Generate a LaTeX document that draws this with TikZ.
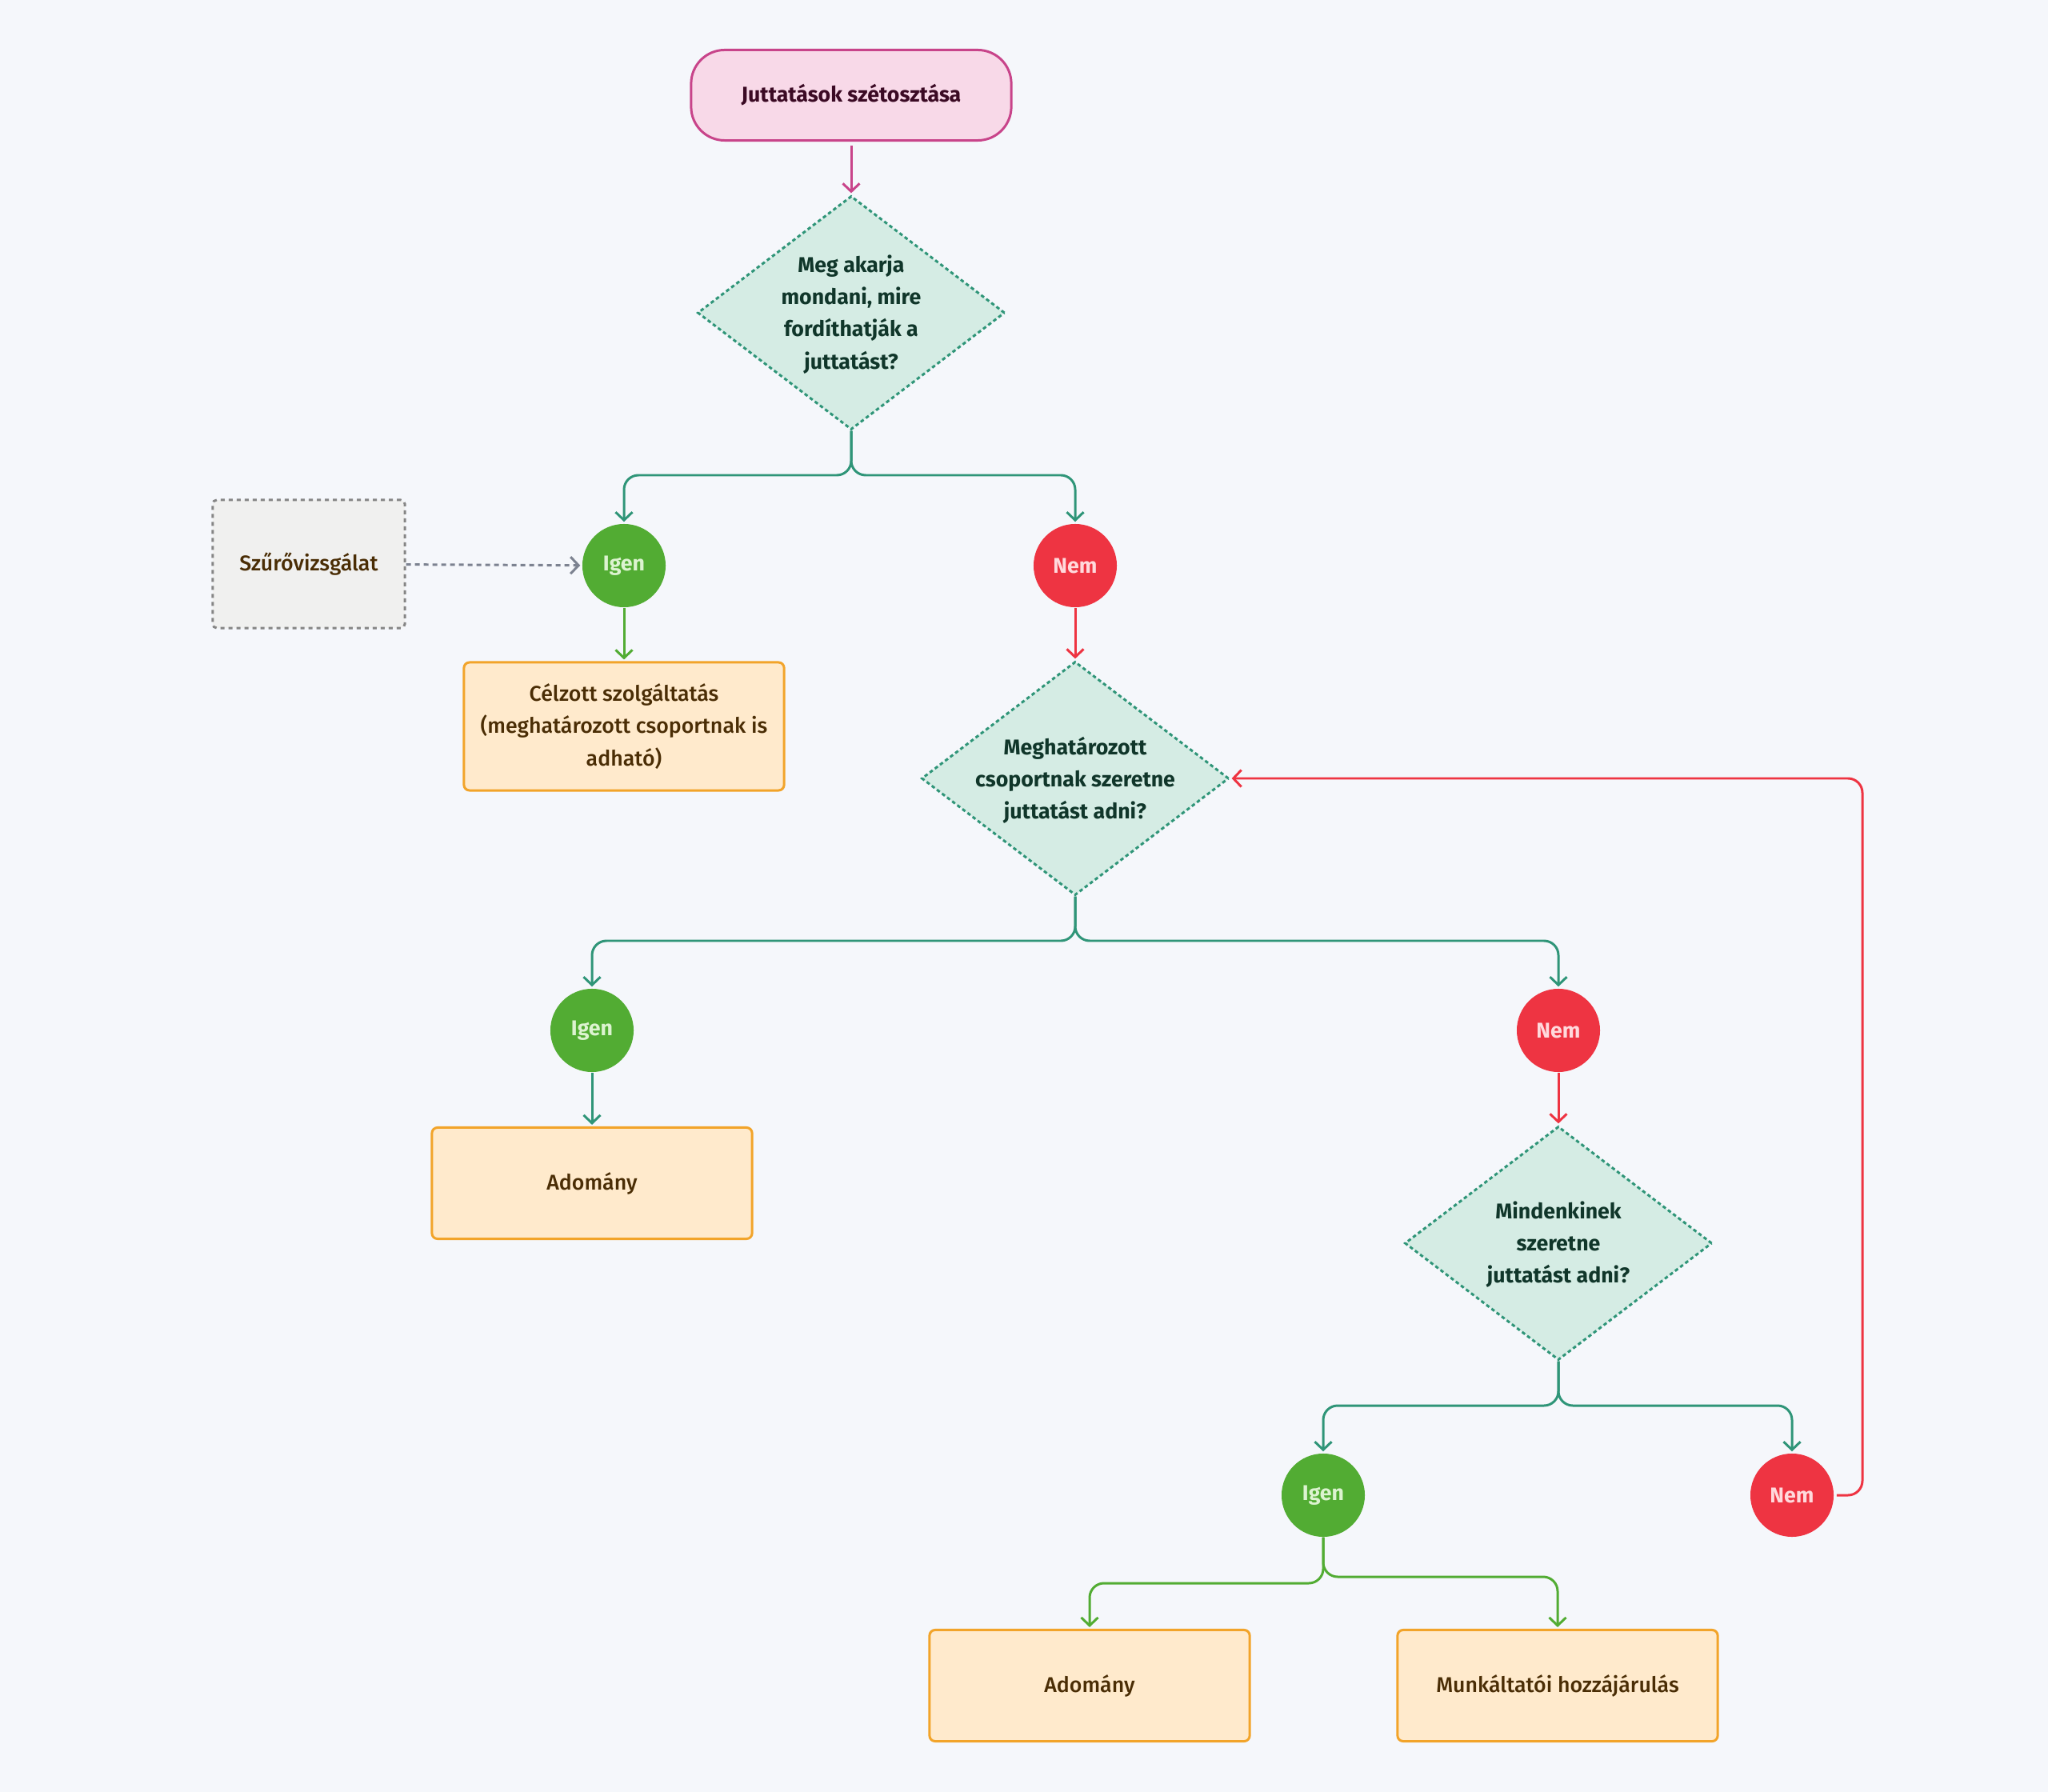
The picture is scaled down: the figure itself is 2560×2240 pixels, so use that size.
\documentclass[tikz,border=0pt]{standalone}
\usepackage{fontspec}
\setmainfont{Fira Sans}
\newfontfamily\medfont{Fira Sans}[UprightFont={* Medium}]
\usetikzlibrary{shapes.geometric,arrows.meta}
\definecolor{bg}{HTML}{F5F7FB}
\definecolor{startfill}{HTML}{F8D9E8}
\definecolor{startline}{HTML}{C8448A}
\definecolor{starttext}{HTML}{3B0A24}
\definecolor{qfill}{HTML}{D5ECE4}
\definecolor{qline}{HTML}{2F9578}
\definecolor{qtext}{HTML}{10362A}
\definecolor{yes}{HTML}{52AC33}
\definecolor{yestext}{HTML}{DCF3D0}
\definecolor{no}{HTML}{EE3442}
\definecolor{notext}{HTML}{FFD9DC}
\definecolor{resfill}{HTML}{FFEACC}
\definecolor{resline}{HTML}{F2A42A}
\definecolor{restext}{HTML}{4A2D05}
\definecolor{asidefill}{HTML}{F0F0EF}
\definecolor{asideline}{HTML}{858585}
\definecolor{asidearrow}{HTML}{7C8290}
\begin{document}
\begin{tikzpicture}[x=0.01cm,y=-0.01cm]
\tikzstyle{every node}+=[inner sep=0pt, font=\fontsize{7.6}{11.4}\selectfont\medfont]
\tikzstyle{startbox}=[draw=startline, fill=startfill, line width=0.85pt, rounded corners=0.42cm, minimum width=4cm, minimum height=1.13cm, text=starttext, font=\fontsize{7.6}{11.4}\selectfont\bfseries]
\tikzstyle{question}=[diamond, draw=qline, fill=qfill, line width=0.85pt, dash pattern=on 0.045cm off 0.035cm, minimum width=3.84cm, minimum height=2.92cm]
\tikzstyle{qlabel}=[text=qtext, align=center, font=\fontsize{7.6}{11.4}\selectfont\bfseries]
\tikzstyle{yesdot}=[circle, fill=yes, minimum size=1.04cm, text=yestext, font=\fontsize{7.6}{11.4}\selectfont\bfseries]
\tikzstyle{nodot}=[circle, fill=no, minimum size=1.04cm, text=notext, font=\fontsize{7.6}{11.4}\selectfont\bfseries]
\tikzstyle{result}=[draw=resline, fill=resfill, line width=0.85pt, rounded corners=0.07cm, minimum width=4cm, text=restext, align=center]
\tikzstyle{aside}=[draw=asideline, fill=asidefill, line width=0.85pt, dash pattern=on 0.05cm off 0.05cm, rounded corners=0.05cm, minimum width=2.4cm, minimum height=1.6cm, text=restext]
\tikzstyle{link}=[line width=0.85pt, rounded corners=0.18cm, shorten >=0.02cm, -{Straight Barb[length=0.1cm,width=0.21cm]}]
\fill[bg] (0,0) rectangle (2560,2240);
\useasboundingbox (0,0) rectangle (2560,2240);
\node[startbox] (start) at (1064,119) {Juttatások szétosztása};
\node[question] (q1) at (1064,391) {};
\node[qlabel] (q1text) at (1064,393) {Meg akarja\\mondani, mire\\fordíthatják a\\juttatást?};
\node[yesdot] (yes1) at (780,707) {Igen};
\node[nodot] (no1) at (1344,707) {Nem};
\node[aside] (screen) at (386,705) {Szűrővizsgálat};
\node[result, minimum height=1.6cm] (target) at (780,908) {Célzott szolgáltatás\\(meghatározott csoportnak is\\adható)};
\node[question] (q2) at (1344,973) {};
\node[qlabel] (q2text) at (1344,975) {Meghatározott\\csoportnak szeretne\\juttatást adni?};
\node[yesdot] (yes2) at (740,1288) {Igen};
\node[nodot] (no2) at (1948,1288) {Nem};
\node[result, minimum height=1.39cm] (gift1) at (740,1479) {Adomány};
\node[question] (q3) at (1948,1554) {};
\node[qlabel] (q3text) at (1948,1556) {Mindenkinek\\szeretne\\juttatást adni?};
\node[yesdot] (yes3) at (1654,1869) {Igen};
\node[nodot] (no3) at (2240,1869) {Nem};
\node[result, minimum height=1.39cm] (gift2) at (1362,2107) {Adomány};
\node[result, minimum height=1.39cm] (employer) at (1947,2107) {Munkáltatói hozzájárulás};
\coordinate (split1) at (1064,594);
\coordinate (split2) at (1344,1176);
\coordinate (split3) at (1948,1757);
\coordinate (split4) at (1654,1979);
\coordinate (split5) at (1654,1971);
\coordinate (loop) at (2328,1869);
\draw[link, startline, shorten <=0.05cm] (start) -- (q1);
\draw[link, qline] (q1.south) -- (split1) -| (yes1.north);
\draw[link, qline] (q1.south) -- (split1) -| (no1.north);
\draw[link, asidearrow, dash pattern=on 0.06cm off 0.05cm] (screen) -- (yes1);
\draw[link, yes] (yes1) -- (target);
\draw[link, no] (no1) -- (q2);
\draw[link, qline] (q2.south) -- (split2) -| (yes2.north);
\draw[link, qline] (q2.south) -- (split2) -| (no2.north);
\draw[link, qline] (yes2) -- (gift1);
\draw[link, no] (no2) -- (q3);
\draw[link, qline] (q3.south) -- (split3) -| (yes3.north);
\draw[link, qline] (q3.south) -- (split3) -| (no3.north);
\draw[link, no, shorten <=0.03cm] (no3.east) -- (loop) |- (q2.east);
\draw[link, yes] (yes3.south) -- (split4) -| (gift2.north);
\draw[link, yes] (yes3.south) -- (split5) -| (employer.north);
\end{tikzpicture}
\end{document}
